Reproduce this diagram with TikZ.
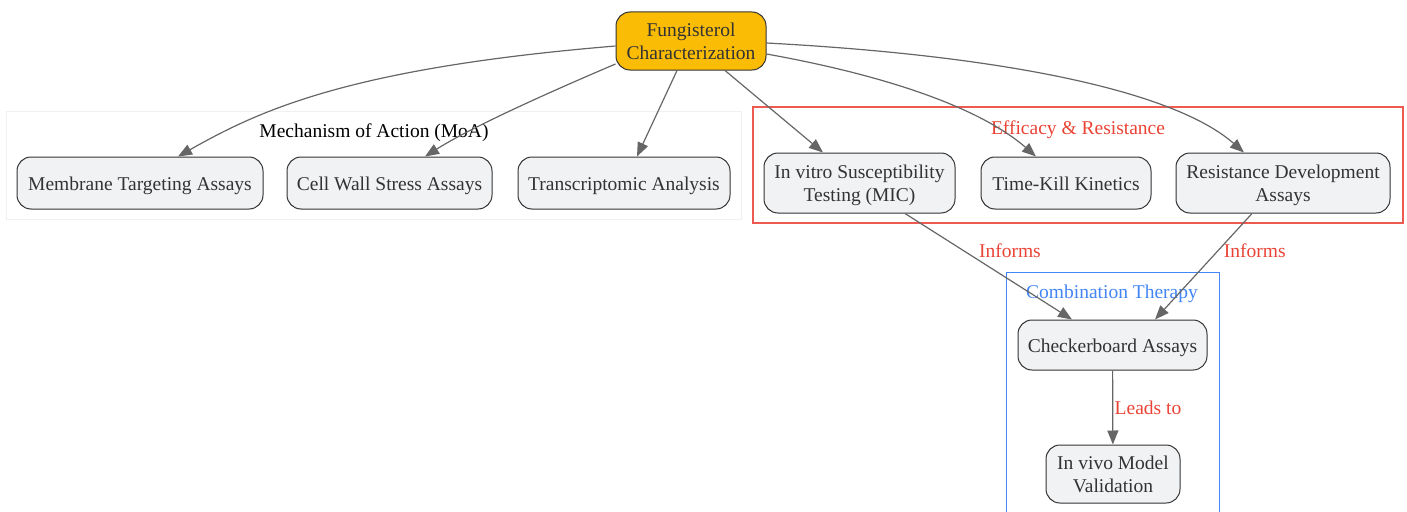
\documentclass[tikz,border=0pt]{standalone}
\usepackage{fontspec}
\setmainfont{Liberation Serif}
\usetikzlibrary{arrows.meta,positioning}
\definecolor{edgegray}{HTML}{666666}
\definecolor{nodefill}{HTML}{F1F2F4}
\definecolor{nodedraw}{HTML}{333333}
\definecolor{amber}{HTML}{FBBC05}
\definecolor{effred}{RGB}{234,67,53}
\definecolor{boxred}{RGB}{238,90,80}
\definecolor{bluec}{HTML}{4285F4}
\definecolor{moaline}{HTML}{EEF0F2}
\begin{document}
\begin{tikzpicture}[x=1pt,y=-1pt,
  box/.style={draw=nodedraw, line width=1pt, fill=nodefill, rounded corners=14pt, align=center,
    font=\fontsize{19.5}{23.5}\selectfont, text=nodedraw, inner xsep=9pt, inner ysep=9pt, minimum height=52pt},
  one/.style={text height=18pt, text depth=4pt},
  two/.style={text height=41.5pt, text depth=4pt, inner ysep=6pt},
  rootbox/.style={box, fill=amber},
  edge/.style={draw=edgegray, line width=1.2pt, -{Triangle[length=14pt,width=11pt]}},
  elabel/.style={text=effred, font=\fontsize{19.5}{23}\selectfont},
  ctitle/.style={font=\fontsize{19.5}{23}\selectfont}
]
\useasboundingbox (0,0) rectangle (1407,511);
% clusters
\draw[draw=moaline, line width=1pt] (6,111) rectangle (741,219);
\node[ctitle, text=black] (moat) at (374,132.5) {Mechanism of Action (MoA)};
\draw[draw=boxred, line width=1.2pt] (753,107) -- (1403,107) -- (1403,223) -- (753,223) -- cycle;
\node[ctitle, text=effred] (efft) at (1078,129.5) {Efficacy \& Resistance};
\draw[draw=bluec, line width=1pt] (1006,515) -- (1006,272) -- (1219,272) -- (1219,515);
\node[ctitle, text=bluec] (comt) at (1112,293.5) {Combination Therapy};
% nodes
\node[rootbox, two, minimum width=150pt, minimum height=58pt] (f) at (691,41) {Fungisterol\\Characterization};
\node[box, one, minimum width=246pt] (mem) at (140,183) {Membrane Targeting Assays};
\node[box, one, minimum width=205pt] (cw) at (389.5,183) {Cell Wall Stress Assays};
\node[box, one, minimum width=212pt] (tr) at (624,183) {Transcriptomic Analysis};
\node[box, two, minimum width=191pt, minimum height=60pt] (mic) at (859.5,183) {In vitro Susceptibility\\Testing (MIC)};
\node[box, one, minimum width=170pt] (tk) at (1066,183) {Time-Kill Kinetics};
\node[box, two, minimum width=214pt, minimum height=60pt] (rd) at (1283,183) {Resistance Development\\Assays};
\node[box, one, minimum width=189pt, minimum height=50pt] (cb) at (1112.5,345) {Checkerboard Assays};
\node[box, two, minimum width=134pt, minimum height=58pt] (iv) at (1113,474) {In vivo Model\\Validation};
% edges
\draw[edge] (f.west |- 0,46) .. controls (350,68) and (260,110) .. (mem.north -| 178,0);
\draw[edge] (f.west |- 0,64) .. controls (545,94) and (470,128) .. (cw.north -| 425,0);
\draw[edge] (f.south -| 677,0) -- (tr.north -| 637,0);
\draw[edge] (f.south -| 725,0) -- (mic.north -| 823,0);
\draw[edge] (f.east |- 0,54) .. controls (900,78) and (985,112) .. (tk.north -| 1036,0);
\draw[edge] (f.east |- 0,43) .. controls (1010,56) and (1175,92) .. (rd.north -| 1244,0);
\draw[edge] (mic.south -| 905,0) -- node[elabel, pos=0.3, anchor=west, xshift=20pt, yshift=-5pt] {Informs} (cb.north -| 1072,0);
\draw[edge] (rd.south -| 1252,0) -- node[elabel, pos=0.3, anchor=west, xshift=-3pt, yshift=-5pt] {Informs} (cb.north -| 1155,0);
\draw[edge] (cb) -- node[elabel, right=-2pt, yshift=0pt] {Leads to} (iv);
\end{tikzpicture}
\end{document}
